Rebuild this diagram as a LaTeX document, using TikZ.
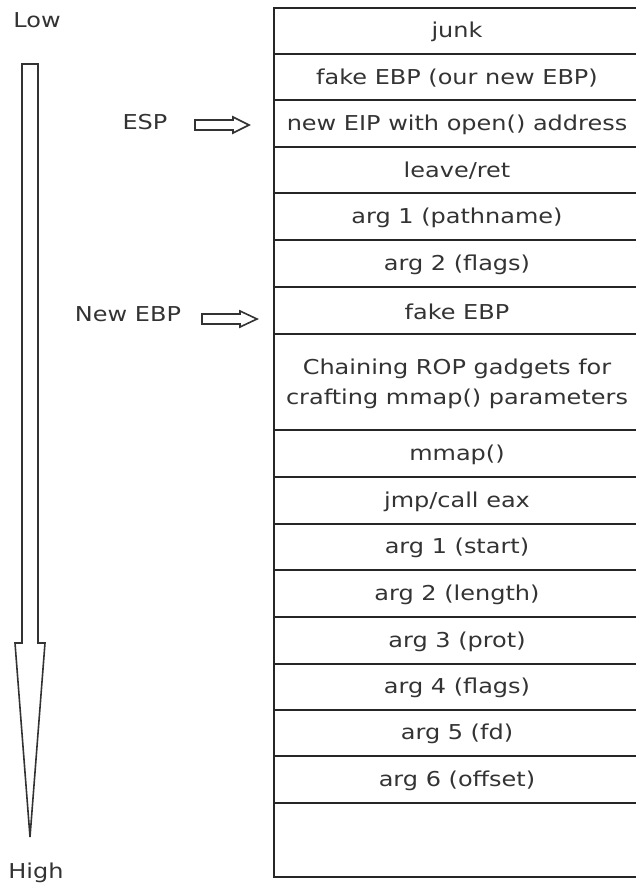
\documentclass[tikz,border=0pt]{standalone}
\usepackage{fontspec}
\setmainfont{DejaVu Sans}[FakeStretch=1.17]
\usetikzlibrary{calc}
\begin{document}
\begin{tikzpicture}[x=1pt,y=-1pt,
  cell/.style={font=\fontsize{20.5}{30}\selectfont, text=black!80, align=center, inner sep=0pt},
  lab/.style={font=\fontsize{20.5}{24}\selectfont, text=black!80, inner sep=0pt},
  rule/.style={draw=black!85, line width=1.6pt},
  hollow/.style={draw=black!80, line width=1.6pt, fill=white, line join=miter}]
\useasboundingbox (0,0) rectangle (635,886);
% table frame
\draw[rule] (640,8) -- (274,8) -- (274,877) -- (640,877);
\foreach \y in {54,100,147,193,240,287,334,430,477,524,570,617,664,710,756,803}
  \draw[rule] (274,\y) -- (640,\y);
% cells
\node[cell] (c1) at (457,32) {junk};
\node[cell] (c2) at (457,78) {fake EBP (our new EBP)};
\node[cell] (c3) at (457,124.5) {new EIP with open() address};
\node[cell] (c4) at (457,171) {leave/ret};
\node[cell] (c5) at (457,217.5) {arg 1 (pathname)};
\node[cell] (c6) at (457,264.5) {arg 2 (flags)};
\node[cell] (c7) at (457,311.5) {fake EBP};
\node[cell] (c8) at (457,384) {Chaining ROP gadgets for\\crafting mmap() parameters};
\node[cell] (c9) at (457,454.5) {mmap()};
\node[cell] (c10) at (457,501.5) {jmp/call eax};
\node[cell] (c11) at (457,548) {arg 1 (start)};
\node[cell] (c12) at (457,594.5) {arg 2 (length)};
\node[cell] (c13) at (457,641.5) {arg 3 (prot)};
\node[cell] (c14) at (457,688) {arg 4 (flags)};
\node[cell] (c15) at (457,734) {arg 5 (fd)};
\node[cell] (c16) at (457,780.5) {arg 6 (offset)};
% labels
\node[lab] (low) at (37,20) {Low};
\node[lab] (high) at (36,873) {High};
\node[lab] (esp) at (145,122) {ESP};
\node[lab] (nebp) at (128,314) {New EBP};
% big direction arrow
\draw[hollow] (22,64) -- (38,64) -- (38,643) -- (45,643) -- (30,837) -- (15,643) -- (22,643) -- cycle;
% ESP arrow
\coordinate (e0) at (195,125);
\draw[hollow] ($(e0)+(0,-5)$) -- ++(38,0) -- ++(0,-3) -- (249,125) -- (233,133) -- (233,130) -- ($(e0)+(0,5)$) -- cycle;
% New EBP arrow
\coordinate (n0) at (202,319);
\draw[hollow] ($(n0)+(0,-5)$) -- ++(38,0) -- ++(0,-3) -- (257,319) -- (240,327) -- (240,324) -- ($(n0)+(0,5)$) -- cycle;
\end{tikzpicture}
\end{document}
